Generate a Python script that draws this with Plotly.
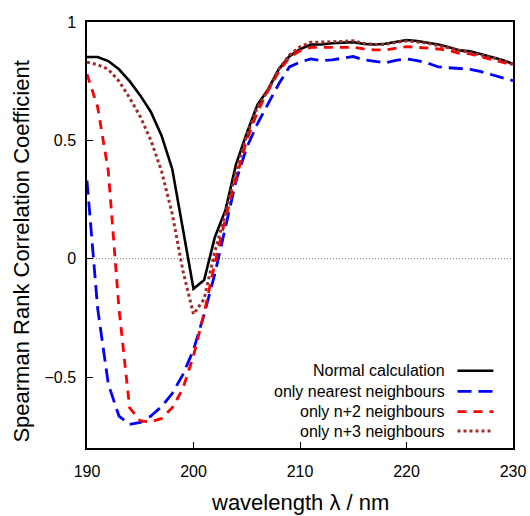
import plotly.graph_objects as go

wavelength = list(range(190, 231))

normal = [0.852, 0.852, 0.835, 0.80, 0.75, 0.69, 0.62, 0.52, 0.38, 0.12,
          -0.127, -0.09, 0.09, 0.205, 0.40, 0.53, 0.65, 0.715, 0.80, 0.855,
          0.885, 0.905, 0.905, 0.91, 0.912, 0.915, 0.907, 0.905, 0.908, 0.916,
          0.924, 0.92, 0.913, 0.905, 0.893, 0.88, 0.876, 0.865, 0.854, 0.84, 0.823]

nearest = [0.33, -0.21, -0.53, -0.665, -0.70, -0.692, -0.665, -0.625, -0.57, -0.49,
           -0.385, -0.235, -0.065, 0.13, 0.33, 0.47, 0.57, 0.654, 0.738, 0.81,
           0.83, 0.844, 0.837, 0.84, 0.847, 0.854, 0.84, 0.833, 0.828, 0.838,
           0.844, 0.837, 0.826, 0.81, 0.806, 0.803, 0.80, 0.79, 0.778, 0.764, 0.752]

n2 = [0.78, 0.64, 0.37, -0.21, -0.63, -0.685, -0.69, -0.675, -0.63, -0.55,
      -0.41, -0.23, -0.02, 0.17, 0.34, 0.50, 0.62, 0.71, 0.79, 0.85,
      0.878, 0.893, 0.893, 0.893, 0.896, 0.893, 0.886, 0.882, 0.882, 0.889,
      0.896, 0.893, 0.89, 0.886, 0.879, 0.868, 0.865, 0.854, 0.84, 0.83, 0.816]

n3 = [0.83, 0.82, 0.80, 0.75, 0.68, 0.60, 0.50, 0.37, 0.19, -0.05,
      -0.235, -0.17, 0.03, 0.19, 0.37, 0.52, 0.64, 0.71, 0.80, 0.86,
      0.895, 0.914, 0.915, 0.915, 0.918, 0.921, 0.91, 0.905, 0.905, 0.914,
      0.92, 0.915, 0.91, 0.90, 0.89, 0.88, 0.87, 0.862, 0.85, 0.838, 0.82]

series_names = ["Normal calculation", "only nearest neighbours",
                "only n+2 neighbours", "only n+3 neighbours"]
series_values = [normal, nearest, n2, n3]
colors = ["#000000", "#0000FF", "#FF0000", "#A52A2A"]
dashes = ["solid", "14px,7px", "9px,7px", "3px,3px"]
widths = [2.6, 2.8, 2.8, 3.0]

x_ticks = [190, 200, 210, 220, 230]
y_ticks = [-0.5, 0, 0.5, 1]
y_ticktext = ["\u22120.5", "0", "0.5", "1"]
zero_x = [190, 230]
zero_y = [0, 0]

FONT = "Liberation Sans, Arial, sans-serif"

fig = go.Figure()
fig.add_trace(go.Scatter(x=zero_x, y=zero_y, mode="lines",
                         line=dict(color="#777777", width=1, dash="1px,2px"),
                         showlegend=False, hoverinfo="skip"))
for name, vals, c, d, w in zip(series_names, series_values, colors, dashes, widths):
    fig.add_trace(go.Scatter(x=wavelength, y=vals, mode="lines", name=name,
                             line=dict(color=c, width=w, dash=d), showlegend=False))

# legend (text on left, sample line on right, as in reference)
row_y = [0.1815, 0.133, 0.0852, 0.0399]
annotations = []
shapes = []
for name, c, d, w, ry in zip(series_names, colors, dashes, widths, row_y):
    annotations.append(dict(x=0.8455, y=ry, xref="paper", yref="paper", text=name,
                            showarrow=False, xanchor="right", yanchor="middle",
                            font=dict(family=FONT, size=16, color="black")))
    shapes.append(dict(type="line", xref="paper", yref="paper", x0=0.8697, x1=0.954,
                       y0=ry, y1=ry, line=dict(color=c, width=w, dash=d)))

annotations.append(dict(x=-0.156, y=0.46, xref="paper", yref="paper",
                        text="Spearman Rank Correlation Coefficient", textangle=-90,
                        showarrow=False, xanchor="center", yanchor="middle",
                        font=dict(family=FONT, size=22, color="black")))
annotations.append(dict(x=0.5, y=-0.128, xref="paper", yref="paper",
                        text="wavelength \u03bb / nm",
                        showarrow=False, xanchor="center", yanchor="middle",
                        font=dict(family=FONT, size=22, color="black")))

fig.update_layout(
    width=530, height=516,
    margin=dict(l=87, r=17, t=22, b=68),
    paper_bgcolor="white", plot_bgcolor="white",
    showlegend=False,
    annotations=annotations, shapes=shapes,
    font=dict(family=FONT, size=16, color="black"),
)
fig.update_xaxes(range=[190, 230], tickvals=x_ticks, ticks="inside", ticklen=6,
                 tickwidth=1, tickcolor="black", showline=True, linecolor="black",
                 linewidth=1.5, mirror=True, showgrid=False, zeroline=False,
                 automargin=False,
                 ticklabelstandoff=8, tickfont=dict(family=FONT, size=16, color="black"))
fig.update_yaxes(range=[-0.8, 1], tickvals=y_ticks, ticktext=y_ticktext, ticks="inside",
                 ticklen=6, tickwidth=1, tickcolor="black", showline=True,
                 linecolor="black", linewidth=1.5, mirror=True, showgrid=False,
                 zeroline=False, ticklabelstandoff=6, automargin=False,
                 tickfont=dict(family=FONT, size=16, color="black"))

fig.write_html("out.html")
